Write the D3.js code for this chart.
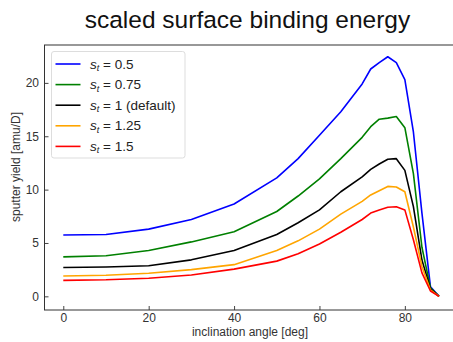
<!DOCTYPE html>
<html>
<head>
<meta charset="utf-8">
<script src="https://cdn.jsdelivr.net/npm/d3@7"></script>
<style>
  html, body { margin: 0; padding: 0; background: #fff; }
  svg { display: block; font-family: "Liberation Sans", Arial, sans-serif; }
</style>
</head>
<body>
<svg id="chart" width="453" height="342"></svg>
<script>
// inclination angles [deg]
const angles = [0, 10, 20, 30, 40, 50, 55, 60, 65, 70, 72, 74, 76, 78, 80, 82, 84, 86, 88];

// sputter yield [amu/D] for each scaling factor s_t
const yieldS050 = [5.75, 5.8, 6.3, 7.2, 8.65, 11.1, 12.9, 15.1, 17.3, 19.9, 21.3, 21.9, 22.45, 21.9, 20.3, 15.4, 7.8, 0.9, 0.0];
const yieldS075 = [3.7, 3.8, 4.3, 5.1, 6.05, 7.95, 9.4, 11.0, 12.9, 14.9, 15.9, 16.6, 16.7, 16.85, 15.8, 11.5, 4.6, 0.8, 0.0];
const yieldS100 = [2.7, 2.75, 2.87, 3.42, 4.3, 5.8, 6.9, 8.1, 9.8, 11.2, 11.9, 12.4, 12.85, 12.9, 11.8, 8.4, 3.4, 0.7, 0.0];
const yieldS125 = [1.9, 1.97, 2.17, 2.5, 2.97, 4.3, 5.2, 6.3, 7.7, 8.9, 9.5, 9.9, 10.3, 10.25, 9.8, 6.5, 2.8, 0.6, 0.0];
const yieldS150 = [1.5, 1.55, 1.7, 2.0, 2.55, 3.3, 4.0, 4.9, 6.0, 7.2, 7.8, 8.1, 8.35, 8.4, 8.1, 5.3, 2.2, 0.5, 0.0];

const seriesNames = ["0.5", "0.75", "1 (default)", "1.25", "1.5"];
const seriesColors = ["#0000ff", "#008000", "#000000", "#ffa500", "#ff0000"];
const seriesValues = [yieldS050, yieldS075, yieldS100, yieldS125, yieldS150];

const xTicks = [0, 20, 40, 60, 80];
const yTicks = [0, 5, 10, 15, 20];

const svg = d3.select("#chart");
const frame = { left: 44.5, right: 457.8, top: 45, bottom: 310 };

const x = d3.scaleLinear().domain([-4.4, 92.4]).range([frame.left, frame.right]);
const y = d3.scaleLinear().domain([-1.28, 23.55]).range([frame.bottom, frame.top]);

// title
svg.append("text")
  .attr("x", 247.5).attr("y", 28)
  .attr("text-anchor", "middle")
  .attr("font-size", 24.5)
  .attr("fill", "#111")
  .text("scaled surface binding energy");

// data lines
const line = d3.line()
  .x((d, i) => x(angles[i]))
  .y(d => y(d));

const plot = svg.append("g");
seriesValues.forEach((vals, k) => {
  plot.append("path")
    .datum(vals)
    .attr("d", line)
    .attr("fill", "none")
    .attr("stroke", seriesColors[k])
    .attr("stroke-width", 1.6)
    .attr("stroke-linejoin", "round");
});

// axes with inward ticks
const xAxis = d3.axisBottom(x).tickValues(xTicks).tickSize(-4).tickPadding(3.5).tickFormat(d3.format("d"));
const yAxis = d3.axisLeft(y).tickValues(yTicks).tickSize(-4).tickPadding(5.5).tickFormat(d3.format("d"));

const gx = svg.append("g").attr("transform", `translate(0,${frame.bottom})`).call(xAxis);
const gy = svg.append("g").attr("transform", `translate(${frame.left},0)`).call(yAxis);
[gx, gy].forEach(g => {
  g.select(".domain").remove();
  g.selectAll(".tick line").attr("stroke", "#444");
  g.selectAll(".tick text").attr("font-size", 12).attr("fill", "#333")
    .attr("font-family", "\"Liberation Sans\", Arial, sans-serif");
});

// frame (spines)
svg.append("rect")
  .attr("x", frame.left).attr("y", frame.top)
  .attr("width", frame.right - frame.left).attr("height", frame.bottom - frame.top)
  .attr("fill", "none").attr("stroke", "#333").attr("stroke-width", 1);

// axis labels
svg.append("text")
  .attr("x", 250).attr("y", 336)
  .attr("text-anchor", "middle")
  .attr("font-size", 12).attr("fill", "#333")
  .text("inclination angle [deg]");

svg.append("text")
  .attr("transform", "translate(20,167) rotate(-90)")
  .attr("text-anchor", "middle")
  .attr("font-size", 12).attr("fill", "#333")
  .text("sputter yield [amu/D]");

// legend
const legend = svg.append("g");
legend.append("rect")
  .attr("x", 51.5).attr("y", 51.5).attr("width", 133.5).attr("height", 106.5)
  .attr("rx", 2.5)
  .attr("fill", "#fff").attr("fill-opacity", 0.85)
  .attr("stroke", "#ddd").attr("stroke-width", 1);

seriesNames.forEach((name, k) => {
  const ly = 64 + k * 20.6;
  legend.append("line")
    .attr("x1", 55.5).attr("x2", 80.5).attr("y1", ly).attr("y2", ly)
    .attr("stroke", seriesColors[k]).attr("stroke-width", 1.6);
  const t = legend.append("text")
    .attr("x", 90).attr("y", ly + 4.5)
    .attr("font-size", 13.5).attr("fill", "#222");
  t.append("tspan").attr("font-style", "italic").text("s");
  t.append("tspan").attr("font-size", 9).attr("dy", 2.5).attr("font-style", "italic").text("t");
  t.append("tspan").attr("dy", -2.5).text(" = " + name);
});
</script>
</body>
</html>
